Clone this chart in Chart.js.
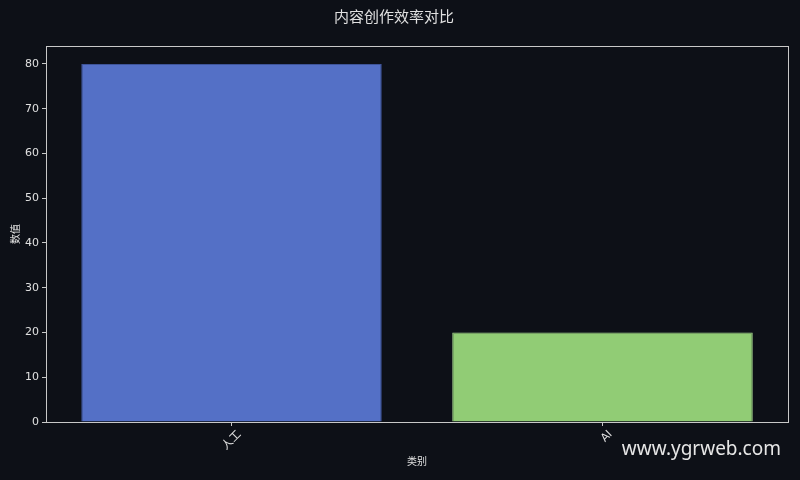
<!DOCTYPE html>
<html>
<head>
<meta charset="utf-8">
<script src="https://cdn.jsdelivr.net/npm/chart.js@4"></script>
<style>
  html, body { margin: 0; padding: 0; background: #0d1017; }
  #wrap { width: 800px; height: 480px; }
</style>
</head>
<body>
<div id="wrap"><canvas id="chart" width="800" height="480"></canvas></div>
<script>
const categories = ["人工", "AI"];
const values = [80, 20];
const yTicks = [0, 10, 20, 30, 40, 50, 60, 70, 80];

const barColors = ["#5470c6", "#91cc75"];
const edgeColors = ["#3e5499", "#a9da92"];
const axisColor = "#c8c8c8";
const textColor = "#e0e0e0";
const fontFamily = "'DejaVu Sans', 'Noto Sans CJK SC', sans-serif";

// draws the full box around the plot area, like a matplotlib frame
const frame = {
  id: "frame",
  afterDatasetsDraw(chart) {
    const { ctx, chartArea: a } = chart;
    ctx.save();
    ctx.strokeStyle = axisColor;
    ctx.lineWidth = 1;
    ctx.strokeRect(a.left + 0.5, a.top + 0.5, a.right - a.left, a.bottom - a.top);
    ctx.restore();
  }
};

// site watermark in the lower right corner
const watermark = {
  id: "watermark",
  afterDraw(chart) {
    const ctx = chart.ctx;
    ctx.save();
    ctx.font = "19px 'Noto Sans', 'Open Sans', sans-serif";
    ctx.fillStyle = "#e6e6e6";
    ctx.textAlign = "right";
    ctx.textBaseline = "alphabetic";
    ctx.fillText("www.ygrweb.com", 781, 455);
    ctx.restore();
  }
};

new Chart(document.getElementById("chart"), {
  type: "bar",
  data: {
    labels: categories,
    datasets: [{
      data: values,
      backgroundColor: barColors,
      borderColor: edgeColors,
      borderWidth: 1,
      barPercentage: 0.81,
      categoryPercentage: 1
    }]
  },
  options: {
    responsive: false,
    animation: false,
    layout: { padding: { left: 0, right: 12, top: 0, bottom: 0 } },
    plugins: {
      legend: { display: false },
      tooltip: { enabled: false },
      title: {
        display: true,
        text: "内容创作效率对比",
        color: textColor,
        font: { family: fontFamily, size: 15, weight: "normal" },
        padding: { top: 9, bottom: 19 }
      }
    },
    scales: {
      x: {
        grid: { display: true, offset: false, drawOnChartArea: false, drawTicks: true, tickLength: 4, color: axisColor },
        border: { color: axisColor },
        ticks: {
          color: textColor,
          font: { family: fontFamily, size: 11 },
          minRotation: 45,
          maxRotation: 45,
          labelOffset: 8,
          padding: 2
        },
        title: {
          display: true,
          text: "类别",
          color: textColor,
          font: { family: fontFamily, size: 10 },
          padding: { top: 0, bottom: 12 }
        },
        afterFit(scale) { scale.height = 58; }
      },
      y: {
        min: 0,
        max: 84,
        afterBuildTicks(scale) { scale.ticks = yTicks.map(v => ({ value: v })); },
        grid: { display: true, drawOnChartArea: false, drawTicks: true, tickLength: 4, color: axisColor },
        border: { color: axisColor },
        ticks: {
          color: textColor,
          font: { family: fontFamily, size: 11 },
          padding: 3
        },
        title: {
          display: true,
          text: "数值",
          color: textColor,
          font: { family: fontFamily, size: 10 },
          padding: { top: 10, bottom: 0 }
        },
        afterFit(scale) { scale.width = 46; }
      }
    }
  },
  plugins: [frame, watermark]
});
</script>
</body>
</html>
